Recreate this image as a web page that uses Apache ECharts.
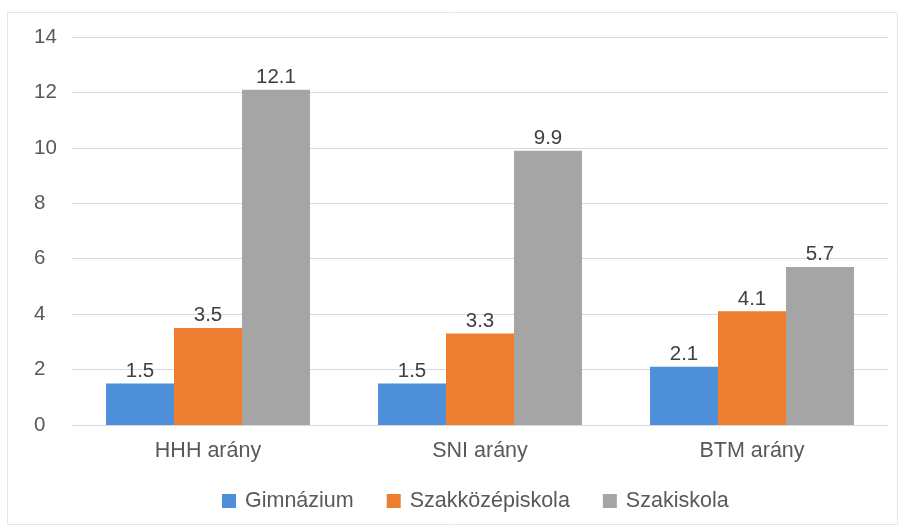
<!DOCTYPE html>
<html><head><meta charset="utf-8">
<script src="https://cdn.jsdelivr.net/npm/echarts@6/dist/echarts.min.js"></script>
<style>html,body{margin:0;padding:0;background:#fff}#c{width:905px;height:530px}</style>
</head><body><div id="c"></div>
<script>
const categories = ['HHH arány', 'SNI arány', 'BTM arány'];
const seriesNames = ['Gimnázium', 'Szakközépiskola', 'Szakiskola'];
const gimnazium = [1.5, 1.5, 2.1];
const szakkozep = [3.5, 3.3, 4.1];
const szakiskola = [12.1, 9.9, 5.7];
const colors = ['#4d8fd9', '#ed7d31', '#a5a5a5'];
const values = [gimnazium, szakkozep, szakiskola];

const chart = echarts.init(document.getElementById('c'), null, {renderer: 'canvas'});
chart.setOption({
  animation: false,
  backgroundColor: '#fff',
  textStyle: {fontFamily: 'Liberation Sans, Arial, sans-serif'},
  graphic: [{type: 'rect', shape: {x: 7.5, y: 12.5, width: 890, height: 512}, style: {fill: 'none', stroke: '#e6e6e6', lineWidth: 1}, silent: true}],
  grid: {left: 72, right: 17, top: 37, bottom: 105},
  legend: {
    top: 485, left: 217, itemWidth: 14, itemHeight: 14, itemGap: 33,
    icon: 'rect',
    textStyle: {fontSize: 21.5, color: '#595959', padding: [0, 0, 0, 4]},
    data: seriesNames
  },
  xAxis: {
    type: 'category', data: categories,
    axisLine: {show: true, lineStyle: {color: '#d9d9d9'}},
    axisTick: {show: false},
    axisLabel: {fontSize: 21.5, color: '#595959', margin: 15}
  },
  yAxis: {
    type: 'value', min: 0, max: 14, interval: 2,
    axisLine: {show: false}, axisTick: {show: false},
    splitLine: {lineStyle: {color: '#d9d9d9'}},
    axisLabel: {fontSize: 20.5, color: '#595959', margin: 38, align: 'left'}
  },
  series: values.map((v, i) => ({
    name: seriesNames[i], type: 'bar', data: v,
    barGap: '0%', barCategoryGap: '25%',
    itemStyle: {color: colors[i]},
    label: {show: true, position: 'top', fontSize: 20.5, color: '#404040', distance: 2}
  }))
});
</script></body></html>
